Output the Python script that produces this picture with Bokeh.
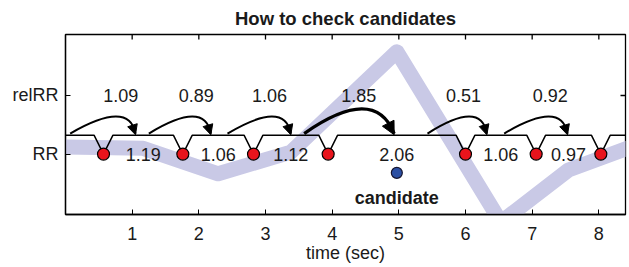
from bokeh.plotting import figure
from bokeh.models import Range1d, FixedTicker, Arrow, NormalHead
from bokeh.embed import file_html
from bokeh.resources import INLINE
from bokeh.core.properties import value

# ---------------- data ----------------
peak_t = [0.57, 1.76, 2.82, 3.94, 6.00, 7.06, 8.03]          # R-peak times (s)
rr_labels = ["1.19", "1.06", "1.12", "2.06", "1.06", "0.97"]  # RR intervals (s)
relrr_vals = [1.09, 0.89, 1.06, 1.85, 0.51, 0.92]            # relative RR
relrr_labels = ["1.09", "0.89", "1.06", "1.85", "0.51", "0.92"]
relrr_label_t = [0.83, 1.96, 3.06, 4.40, 5.97, 7.27]
arrow_start_t = [0.07, 1.25, 2.43, 3.58, 5.43, 6.58]
arrow_end_t = [1.05, 2.18, 3.38, 4.93, 6.32, 7.53]
arrow_bold = [False, False, False, True, False, False]
candidate_t = 4.97
# purple band: relRR at interval midpoints plus off-screen neighbours
band_pre_t, band_pre_r = -0.02, 1.10
band_post_t, band_post_r = 8.53, 1.11
xticks = [1, 2, 3, 4, 5, 6, 7, 8]
yticks = [1, 2]
ytick_names = {1: "RR", 2: "relRR"}
title_text = "How to check candidates"

# ---------------- levels ----------------
X0, X1 = 0.0, 8.4
Y0, Y1 = -0.03, 3.04
RR_Y = 1.0
REL_Y = 2.0
BRACKET_Y = 1.32
ARROW_Y = 1.35
CAND_Y = 0.68
CAND_LABEL_Y = 0.25
DIP = 0.14

FONT = "Liberation Sans"
TXT = "#1a1a1a"

mid_t = [(a + b) / 2 for a, b in zip(peak_t[:-1], peak_t[1:])]

p = figure(width=629, height=267, x_range=Range1d(X0, X1), y_range=Range1d(Y0, Y1),
           output_backend="svg", toolbar_location=None,
           min_border_left=65, min_border_right=4, min_border_top=33, min_border_bottom=53)
p.extra_y_ranges = {"rel": Range1d(0.57, 1.985)}

p.title.text = title_text
p.title.align = "center"
p.title.text_font = FONT
p.title.text_font_size = "18.5px"
p.title.text_font_style = "bold"
p.title.text_color = TXT
p.title.standoff = 11
p.title.offset = 0

p.xgrid.visible = False
p.ygrid.visible = False
p.outline_line_color = "black"
p.outline_line_width = 1.3

# bottom axis
xa = p.xaxis[0]
xa.ticker = FixedTicker(ticks=xticks)
xa.axis_label = "time (sec)"
xa.major_tick_in = 5
xa.major_tick_out = 0
xa.minor_tick_line_color = None
xa.axis_line_width = 1.3
xa.major_label_text_font = FONT
xa.major_label_text_font_size = "18px"
xa.major_label_text_color = TXT
xa.major_label_standoff = 12
xa.axis_label_text_font = FONT
xa.axis_label_text_font_size = "18px"
xa.axis_label_text_font_style = "normal"
xa.axis_label_text_color = TXT
xa.axis_label_standoff = 0

ya = p.yaxis[0]
ya.ticker = FixedTicker(ticks=yticks)
ya.major_label_overrides = ytick_names
ya.major_tick_in = 5
ya.major_tick_out = 0
ya.minor_tick_line_color = None
ya.axis_line_width = 1.3
ya.major_label_text_font = FONT
ya.major_label_text_font_size = "18px"
ya.major_label_text_color = TXT
ya.major_label_standoff = 7

# mirrored inward ticks on top and right edges
p.ray(x=xticks, y=[Y1] * len(xticks), length=5, length_units="screen",
      angle=-90, angle_units="deg", line_color="black", line_width=1.3)
p.ray(x=[X1] * len(yticks), y=yticks, length=5, length_units="screen",
      angle=180, angle_units="deg", line_color="black", line_width=1.3)

# purple band
band_t = [band_pre_t] + mid_t + [band_post_t]
band_r = [band_pre_r] + relrr_vals + [band_post_r]
p.line(band_t, band_r, y_range_name="rel", line_color="#c9c9e6", line_width=15, line_join="round")

# bracket line with dips at each R peak
bx, by = [X0], [BRACKET_Y]
for t in peak_t:
    bx += [t - DIP, t, t + DIP]
    by += [BRACKET_Y, RR_Y, BRACKET_Y]
bx.append(X1)
by.append(BRACKET_Y)
p.line(bx, by, line_color="black", line_width=1.5)

# curved arrows
def bez(p0, p1, p2, t):
    return ((1 - t) ** 2 * p0 + 2 * t * (1 - t) * p1 + t ** 2 * p2)

for xs, xe, bold in zip(arrow_start_t, arrow_end_t, arrow_bold):
    frac = 0.78 if bold else 0.9
    h = 0.42 if bold else 0.29
    cx = xs + frac * (xe - xs)
    cy = ARROW_Y + 2 * h
    lw = 3.2 if bold else 2.0
    p.quadratic(x0=[xs], y0=[ARROW_Y], x1=[xe], y1=[ARROW_Y], cx=[cx], cy=[cy],
                line_color="black", line_width=lw)
    ax0 = bez(xs, cx, xe, 0.85)
    ay0 = bez(ARROW_Y, cy, ARROW_Y, 0.85)
    size = 13 if bold else 10
    p.add_layout(Arrow(end=NormalHead(size=size, fill_color="black", line_color="black", line_width=1),
                       x_start=ax0, y_start=ay0, x_end=xe, y_end=ARROW_Y - 0.02,
                       line_alpha=0))

# RR labels
p.text(x=mid_t, y=[RR_Y] * len(mid_t), text=rr_labels, text_font=value(FONT),
       text_font_size="18px", text_color=TXT, text_align="center", text_baseline="middle")
# relRR labels
p.text(x=relrr_label_t, y=[REL_Y] * len(relrr_label_t), text=relrr_labels, text_font=value(FONT),
       text_font_size="18px", text_color=TXT, text_align="center", text_baseline="middle")

# R peaks
p.scatter(peak_t, [RR_Y] * len(peak_t), size=12, fill_color="#e8141c", line_color="black", line_width=1.2)
# candidate
p.scatter([candidate_t], [CAND_Y], size=11, fill_color="#2b4fa3", line_color="#151530", line_width=1.2)
p.text(x=[candidate_t], y=[CAND_LABEL_Y], text=["candidate"], text_font=value(FONT),
       text_font_size="18px", text_font_style="bold", text_color=TXT,
       text_align="center", text_baseline="middle")

open("out.html", "w").write(file_html(p, INLINE))
